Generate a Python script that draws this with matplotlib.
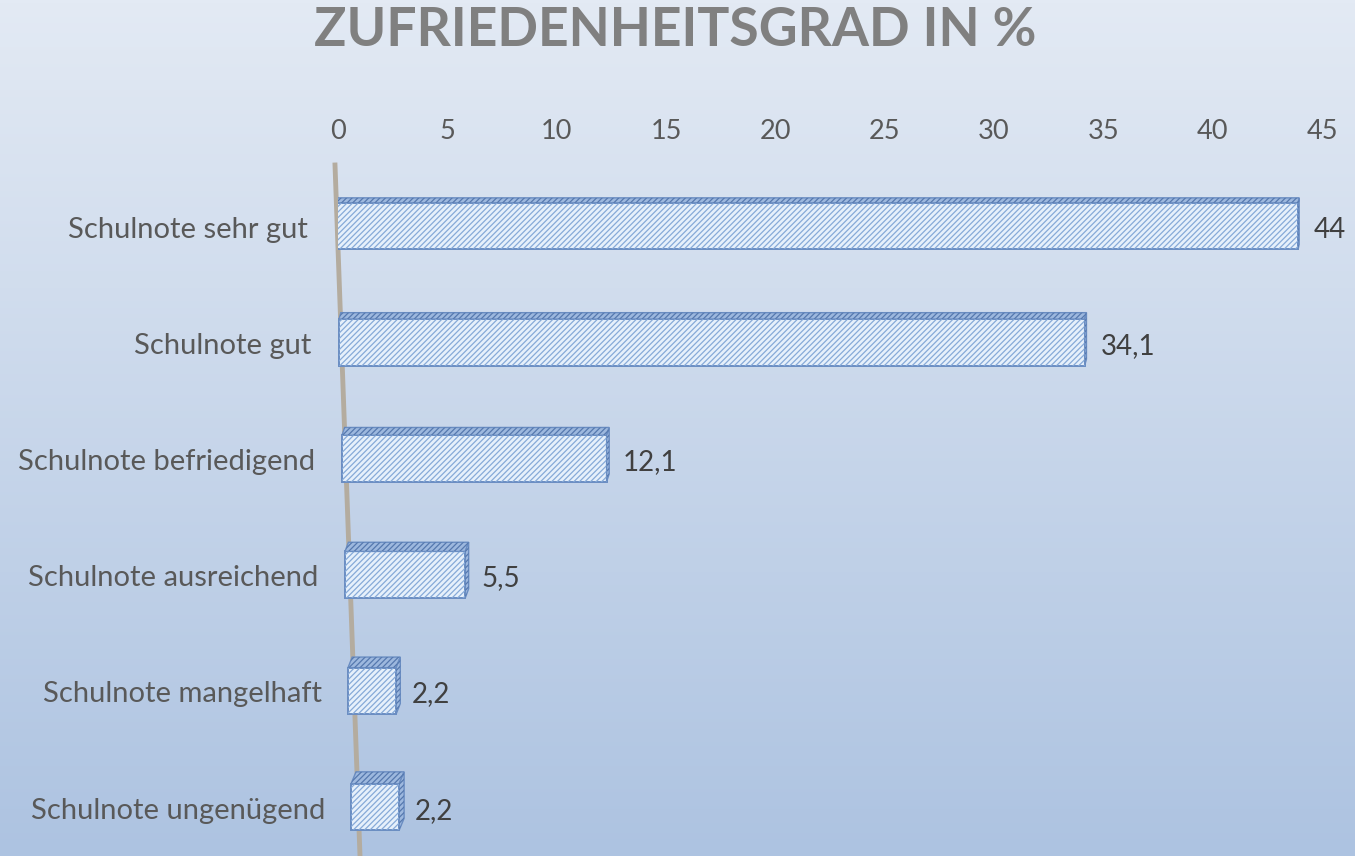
import numpy as np
import matplotlib
matplotlib.use("Agg")
import matplotlib.pyplot as plt
from matplotlib.patches import Polygon
from matplotlib.colors import to_rgb

categories = ["Schulnote sehr gut", "Schulnote gut", "Schulnote befriedigend",
              "Schulnote ausreichend", "Schulnote mangelhaft", "Schulnote ungenügend"]
values = [44, 34.1, 12.1, 5.5, 2.2, 2.2]
ticks = [0, 5, 10, 15, 20, 25, 30, 35, 40, 45]
title = "ZUFRIEDENHEITSGRAD IN %"

plt.rcParams['font.family'] = ['Lato', 'DejaVu Sans']
plt.rcParams['hatch.linewidth'] = 0.9

W, H = 1355, 856
fig = plt.figure(figsize=(W / 100, H / 100), dpi=100)

# background gradient
bg = fig.add_axes([0, 0, 1, 1], zorder=-10)
top, bot = np.array(to_rgb('#E3EAF4')), np.array(to_rgb('#ADC3E1'))
t = np.linspace(0, 1, 256)[:, None]
grad = (top * (1 - t) + bot * t)[:, None, :]
bg.imshow(grad, aspect='auto', extent=[0, 1, 0, 1])
bg.axis('off')

# plot area: 0 at px 338, 45 at px 1322; rows 116.2 px apart
px_per_unit = (1322 - 338) / 45
ax = fig.add_axes([338 / W, 0, (1322 - 338) / W, 1 - 168 / H])
ax.patch.set_alpha(0)
ax.set_xlim(0, 45)
ax.set_ylim(-0.5 + 688 / 116.2, -0.5)
for s in ax.spines.values():
    s.set_visible(False)
ax.xaxis.tick_top()
ax.set_xticks(ticks)
ax.tick_params(axis='x', length=0, pad=17, labelsize=19.5, labelcolor='#595959')
ax.set_yticks([])

# slanted axis line (perspective)
ax.plot([335 / W, 360 / W], [1 - 165 / H, 0], transform=fig.transFigure,
        color='#B4AC9F', lw=3.5, zorder=1, clip_on=False)

ypos = np.arange(len(values))
lefts = (-2 + 3 * ypos) / px_per_unit
bh = 0.4

face, edge, hatchc = '#E6F0FB', '#6A8DC2', '#86AAD8'
ax.barh(ypos, values, left=lefts, height=bh, color=face, edgecolor=edge, lw=1.4, zorder=3)
ax.barh(ypos, values, left=lefts, height=bh, color='none', edgecolor=hatchc,
        hatch='//////', lw=0, zorder=4)

for i, v in enumerate(values):
    x0, x1 = lefts[i], lefts[i] + v
    yt, yb = i - bh / 2, i + bh / 2
    dy = (5 + 1.4 * i) / 116.2
    dx = (1 + 0.8 * i) / px_per_unit
    topface = [(x0, yt), (x1, yt), (x1 + dx, yt - dy), (x0 + dx, yt - dy)]
    side = [(x1, yt), (x1 + dx, yt - dy), (x1 + dx, yb - dy), (x1, yb)]
    for pts in (topface, side):
        ax.add_patch(Polygon(pts, closed=True, facecolor='#9DB8DE', edgecolor='#6A8DC2',
                             lw=1.0, zorder=3))
        ax.add_patch(Polygon(pts, closed=True, facecolor='none', edgecolor='#5578AE',
                             hatch='//////', lw=0, zorder=4))
    lbl = f"{v:g}".replace('.', ',')
    ax.text(x1 + 16 / px_per_unit, i + 0.03, lbl, ha='left', va='center',
            fontsize=20, color='#404040', zorder=5)
    ax.text((308 + 3.4 * i - 338) / px_per_unit, i + 0.03, categories[i],
            ha='right', va='center', fontsize=21, color='#595959', clip_on=False)

fig.text(675 / W, 1 - 31 / H, title, ha='center', va='center', fontsize=38.5,
         fontweight='bold', color='#808080')

fig.savefig('out.png', dpi=100)
